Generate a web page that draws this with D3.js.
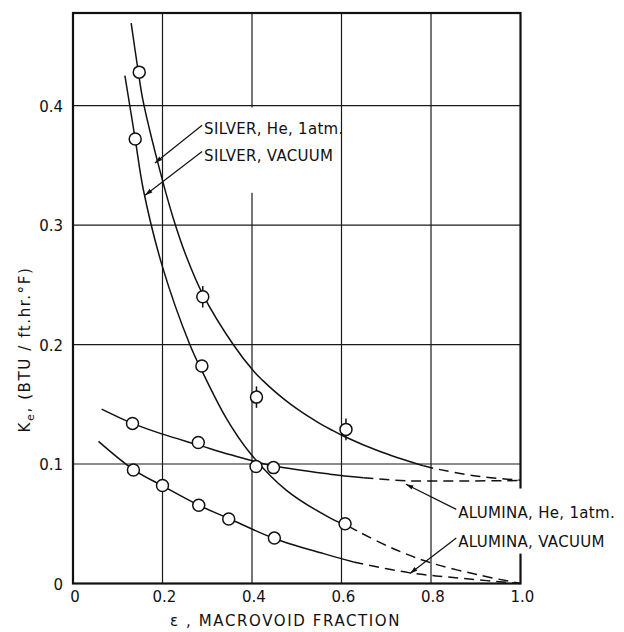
<!DOCTYPE html>
<html>
<head>
<meta charset="utf-8">
<script src="https://cdn.jsdelivr.net/npm/d3@7"></script>
<style>
  body { margin: 0; background: #fff; }
  text { font-family: "DejaVu Sans", "Liberation Sans", sans-serif; fill: #111; }
</style>
</head>
<body>
<svg id="chart" width="624" height="632"></svg>
<script>
const width = 624
const height = 632

// tick values and labels
const xTicks = [0, 0.2, 0.4, 0.6, 0.8, 1.0]
const xTickLabels = ['0', '0.2', '0.4', '0.6', '0.8', '1.0']
const yTicks = [0, 0.1, 0.2, 0.3, 0.4]
const yTickLabels = ['0', '0.1', '0.2', '0.3', '0.4']

// measured points (circles)
const silverHeX = [0.148, 0.290, 0.410, 0.610]
const silverHeK = [0.428, 0.240, 0.156, 0.129]
const silverHeErr = [0, 0.009, 0.009, 0.009]
const silverVacX = [0.139, 0.288, 0.409, 0.608]
const silverVacK = [0.372, 0.182, 0.098, 0.050]
const aluminaHeX = [0.133, 0.280, 0.448]
const aluminaHeK = [0.134, 0.118, 0.097]
const aluminaVacX = [0.135, 0.200, 0.281, 0.348, 0.450]
const aluminaVacK = [0.095, 0.082, 0.0655, 0.054, 0.038]

// fitted curves, solid part
const silverHeLineX = [0.130, 0.146, 0.156, 0.187, 0.223, 0.254, 0.290, 0.358, 0.403, 0.425, 0.450, 0.475, 0.500, 0.525, 0.550, 0.577, 0.604, 0.686, 0.783]
const silverHeLineK = [0.469, 0.428, 0.405, 0.356, 0.307, 0.273, 0.242, 0.200, 0.178, 0.1696, 0.161, 0.1533, 0.1463, 0.140, 0.1343, 0.1287, 0.1235, 0.1105, 0.0985]
const silverVacLineX = [0.116, 0.139, 0.157, 0.200, 0.261, 0.288, 0.343, 0.396, 0.477, 0.574, 0.615]
const silverVacLineK = [0.425, 0.372, 0.330, 0.265, 0.200, 0.178, 0.138, 0.109, 0.078, 0.055, 0.048]
const aluminaHeLineX = [0.064, 0.133, 0.200, 0.280, 0.350, 0.448, 0.574, 0.649]
const aluminaHeLineK = [0.146, 0.134, 0.125, 0.116, 0.108, 0.0985, 0.0915, 0.0885]
const aluminaVacLineX = [0.057, 0.135, 0.200, 0.281, 0.348, 0.450, 0.560, 0.627]
const aluminaVacLineK = [0.119, 0.0954, 0.0817, 0.0655, 0.0544, 0.0377, 0.025, 0.018]

// extrapolated curves, dashed part
const silverHeDashX = [0.783, 0.805, 0.910, 1.0]
const silverHeDashK = [0.0985, 0.0965, 0.0895, 0.0865]
const silverVacDashX = [0.615, 0.640, 0.723, 0.805, 0.910, 1.0]
const silverVacDashK = [0.048, 0.043, 0.028, 0.0167, 0.0069, 0.0]
const aluminaHeDashX = [0.649, 0.745, 0.870, 1.0]
const aluminaHeDashK = [0.0885, 0.0860, 0.0858, 0.0862]
const aluminaVacDashX = [0.627, 0.753, 0.872, 1.0]
const aluminaVacDashK = [0.018, 0.0089, 0.0042, 0.0]

// callout labels: text position and arrow tip in data units
const labels = ['SILVER, He, 1atm.', 'SILVER, VACUUM', 'ALUMINA, He, 1atm.', 'ALUMINA, VACUUM']
const labelX = [0.293, 0.293, 0.861, 0.861]
const labelK = [0.376, 0.354, 0.0545, 0.0306]
const tipX = [0.183, 0.161, 0.744, 0.753]
const tipK = [0.352, 0.325, 0.0831, 0.0084]

const zip = (xs, ks) => xs.map((d, i) => [d, ks[i]])

const svg = d3.select('#chart')
const x = d3.scaleLinear().domain([0, 1]).range([73, 520.5])
const y = d3.scaleLinear().domain([0, 0.4775]).range([583.5, 13])

//grid lines
const grid = svg.append('g').attr('stroke', '#1a1a1a').attr('stroke-width', 1.2)
grid.selectAll('.vg').data(xTicks.slice(1, -1)).enter().append('line')
  .attr('x1', d => x(d)).attr('x2', d => x(d))
  .attr('y1', y(0)).attr('y2', y.range()[1])
grid.selectAll('.hg').data(yTicks.slice(1)).enter().append('line')
  .attr('x1', x(0)).attr('x2', x(1))
  .attr('y1', d => y(d)).attr('y2', d => y(d))

//frame
svg.append('rect')
  .attr('x', x(0)).attr('y', y.range()[1])
  .attr('width', x(1) - x(0)).attr('height', y(0) - y.range()[1])
  .attr('fill', 'none').attr('stroke', '#111').attr('stroke-width', 2.2)

//tick labels
svg.append('g').selectAll('text').data(xTicks).enter().append('text')
  .attr('x', d => x(d) + 2).attr('y', y(0) + 18)
  .attr('text-anchor', 'middle').attr('font-size', 15)
  .text((d, i) => xTickLabels[i])
svg.append('g').selectAll('text').data(yTicks).enter().append('text')
  .attr('x', x(0) - 10).attr('y', d => y(d) + 6)
  .attr('text-anchor', 'end').attr('font-size', 15)
  .text((d, i) => yTickLabels[i])

//axis titles
svg.append('text')
  .attr('x', x(0.475)).attr('y', y(0) + 42)
  .attr('text-anchor', 'middle').attr('font-size', 15)
  .attr('letter-spacing', 1.6)
  .text('\u03b5 ,  MACROVOID  FRACTION')

const yTitle = svg.append('text')
  .attr('transform', `translate(30, ${y(0.2) + 5}) rotate(-90)`)
  .attr('text-anchor', 'middle').attr('font-size', 15)
  .attr('letter-spacing', 1.6)
yTitle.append('tspan').text('K')
yTitle.append('tspan').attr('font-size', 11).attr('dy', 4).text('e')
yTitle.append('tspan').attr('dy', -4).text(',  (BTU / ft.hr.\u00b0F)')

//white patches where the original lettering broke the grid
svg.append('rect').attr('x', x(0.291)).attr('y', y(0.3985))
  .attr('width', x(0.593) - x(0.291)).attr('height', y(0.327) - y(0.3985)).attr('fill', '#fff')
svg.append('rect').attr('x', x(0.853)).attr('y', y(0.0795))
  .attr('width', 175).attr('height', y(0.025) - y(0.0795)).attr('fill', '#fff')

//curves
const line = d3.line().x(d => x(d[0])).y(d => y(d[1])).curve(d3.curveCatmullRom.alpha(0.5))
const solids = [zip(silverHeLineX, silverHeLineK), zip(silverVacLineX, silverVacLineK),
  zip(aluminaHeLineX, aluminaHeLineK), zip(aluminaVacLineX, aluminaVacLineK)]
const dashes = [zip(silverHeDashX, silverHeDashK), zip(silverVacDashX, silverVacDashK),
  zip(aluminaHeDashX, aluminaHeDashK), zip(aluminaVacDashX, aluminaVacDashK)]
svg.append('g').selectAll('path').data(solids).enter().append('path')
  .attr('d', line).attr('fill', 'none').attr('stroke', '#111').attr('stroke-width', 1.5)
svg.append('g').selectAll('path').data(dashes).enter().append('path')
  .attr('d', line).attr('fill', 'none').attr('stroke', '#111').attr('stroke-width', 1.5)
  .attr('stroke-dasharray', '10,6')

//error bars on silver He points
svg.append('g').selectAll('line').data(zip(silverHeX, silverHeK).map((d, i) => [...d, silverHeErr[i]]).filter(d => d[2] > 0))
  .enter().append('line')
  .attr('x1', d => x(d[0])).attr('x2', d => x(d[0]))
  .attr('y1', d => y(d[1] - d[2])).attr('y2', d => y(d[1] + d[2]))
  .attr('stroke', '#111').attr('stroke-width', 1.5)

//data circles
const points = [].concat(zip(silverHeX, silverHeK), zip(silverVacX, silverVacK),
  zip(aluminaHeX, aluminaHeK), zip(aluminaVacX, aluminaVacK))
svg.append('g').selectAll('circle').data(points).enter().append('circle')
  .attr('cx', d => x(d[0])).attr('cy', d => y(d[1])).attr('r', 6)
  .attr('fill', '#fff').attr('stroke', '#111').attr('stroke-width', 1.5)

//callouts
svg.append('defs').append('marker')
  .attr('id', 'arrow').attr('viewBox', '0 -4 10 8')
  .attr('refX', 10).attr('refY', 0)
  .attr('markerWidth', 8).attr('markerHeight', 6)
  .attr('markerUnits', 'userSpaceOnUse').attr('orient', 'auto')
  .append('path').attr('d', 'M0,-3L10,0L0,3Z').attr('fill', '#111')

const callouts = svg.append('g')
callouts.selectAll('line').data(labels).enter().append('line')
  .attr('x1', (d, i) => x(labelX[i]) - 2).attr('y1', (d, i) => y(labelK[i]) - 9)
  .attr('x2', (d, i) => x(tipX[i])).attr('y2', (d, i) => y(tipK[i]))
  .attr('stroke', '#111').attr('stroke-width', 1.2)
  .attr('marker-end', 'url(#arrow)')
callouts.selectAll('text').data(labels).enter().append('text')
  .attr('x', (d, i) => x(labelX[i])).attr('y', (d, i) => y(labelK[i]))
  .attr('font-size', 15).attr('letter-spacing', 0.3)
  .text(d => d)
</script>
</body>
</html>
